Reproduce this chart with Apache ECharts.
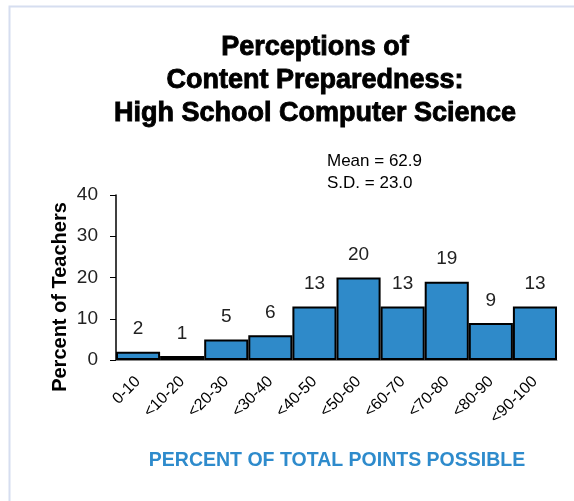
<!DOCTYPE html>
<html><head><meta charset="utf-8">
<script src="https://cdn.jsdelivr.net/npm/echarts@6/dist/echarts.min.js"></script>
<style>html,body{margin:0;padding:0;background:#fff}#c{width:574px;height:501px}</style>
</head><body><div id="c"></div>
<script>
const categories = ['0-10','<10-20','<20-30','<30-40','<40-50','<50-60','<60-70','<70-80','<80-90','<90-100'];
const values = [2,1,5,6,13,20,13,19,9,13];
const yTicks = [0,10,20,30,40];
const titleLines = ['Perceptions of','Content Preparedness:','High School Computer Science'];
const statsLines = ['Mean = 62.9','S.D. = 23.0'];
const yTitle = 'Percent of Teachers';
const xTitle = 'PERCENT OF TOTAL POINTS POSSIBLE';
const font = '"Liberation Sans",Arial,sans-serif';
const chart = echarts.init(document.getElementById('c'));
chart.setOption({
  animation:false,
  title:{text:titleLines.join('\n'),left:310,textAlign:'center',top:26,
    textStyle:{fontFamily:font,fontWeight:'bold',fontSize:27,lineHeight:33,color:'#000',
      textBorderColor:'#000',textBorderWidth:0.9}},
  graphic:[
    {type:'rect',shape:{x:9.5,y:6.5,width:600,height:600},style:{fill:'none',stroke:'#d6def0',lineWidth:2}},
    {type:'text',left:327,top:150,style:{text:statsLines.join('\n'),font:'17px '+font,lineHeight:22,fill:'#000'}},
    {type:'text',x:60,y:297,rotation:Math.PI/2,
      style:{text:yTitle,font:'bold 20px '+font,fill:'#000',align:'center',verticalAlign:'middle'}},
    {type:'text',x:337,y:461,
      style:{text:xTitle,font:'bold 19.5px '+font,fill:'#2e8bcc',align:'center',verticalAlign:'middle'}}
  ],
  grid:{left:116,right:17,top:195,bottom:141},
  xAxis:{type:'category',data:categories,
    axisLine:{lineStyle:{color:'#888',width:1}},axisTick:{show:false},
    axisLabel:{rotate:45,interval:0,fontFamily:font,fontSize:16,color:'#000',margin:19}},
  yAxis:{type:'value',min:0,max:40,interval:10,
    axisLine:{show:true,lineStyle:{color:'#000',width:1.5}},
    axisTick:{show:true,length:6,lineStyle:{color:'#000'}},
    splitLine:{show:false},
    axisLabel:{fontFamily:font,fontSize:19,color:'#222',margin:18,
      formatter:v=>yTicks.includes(v)?String(v):''}},
  series:[{type:'bar',data:values,barCategoryGap:'0%',
    itemStyle:{color:'#2f8ac9',borderColor:'#000',borderWidth:2},
    label:{show:true,position:'top',distance:13,fontFamily:font,fontSize:19,color:'#222'}}]
});
</script></body></html>
